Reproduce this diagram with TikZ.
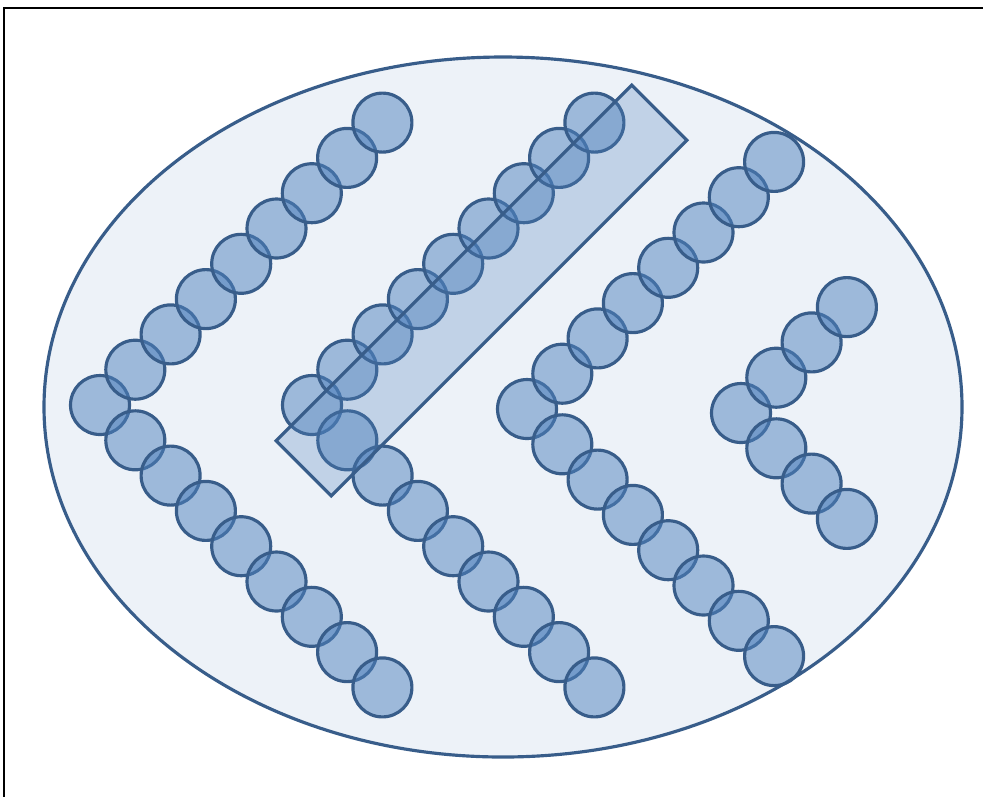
\documentclass[tikz,border=0pt]{standalone}
\definecolor{beadfill}{RGB}{79,129,189}
\definecolor{beadline}{RGB}{56,93,138}
\begin{document}
\begin{tikzpicture}[x=0.02cm, y=-0.02cm,
  bead/.style={circle, draw=beadline, line width=1.8pt, fill=beadfill, fill opacity=0.5, draw opacity=1, minimum size=1.18cm, inner sep=0pt, outer sep=0pt},
  band/.style={rectangle, draw=beadline, line width=1.8pt, fill=beadfill, fill opacity=0.28, draw opacity=1, minimum width=10.06cm, minimum height=1.56cm, inner sep=0pt, rotate=45}]
  \useasboundingbox (0,0) rectangle (983,796);
  \clip (0,0) rectangle (983,796);
  \fill[white] (0,0) rectangle (983,796);
  \draw[line width=0.8pt, black] (4,8) rectangle (995,805);
  \draw[beadline, line width=1.8pt, fill=beadfill!10] (503,407) ellipse [x radius=459, y radius=350];
  \foreach \c/\tx/\ty/\n in {a/100/405/8, b/312/405/8, c/527/409/7, d/741/413/3} {
    \foreach \i in {0,...,\n} {
      \node[bead] (\c-up-\i) at (\tx+35.3*\i, \ty-35.3*\i) {};
    }
    \foreach \i in {1,...,\n} {
      \node[bead] (\c-lo-\i) at (\tx+35.3*\i, \ty+35.3*\i) {};
    }
  }
  \node[band] (sel) at (481.5,290.5) {};
\end{tikzpicture}
\end{document}
